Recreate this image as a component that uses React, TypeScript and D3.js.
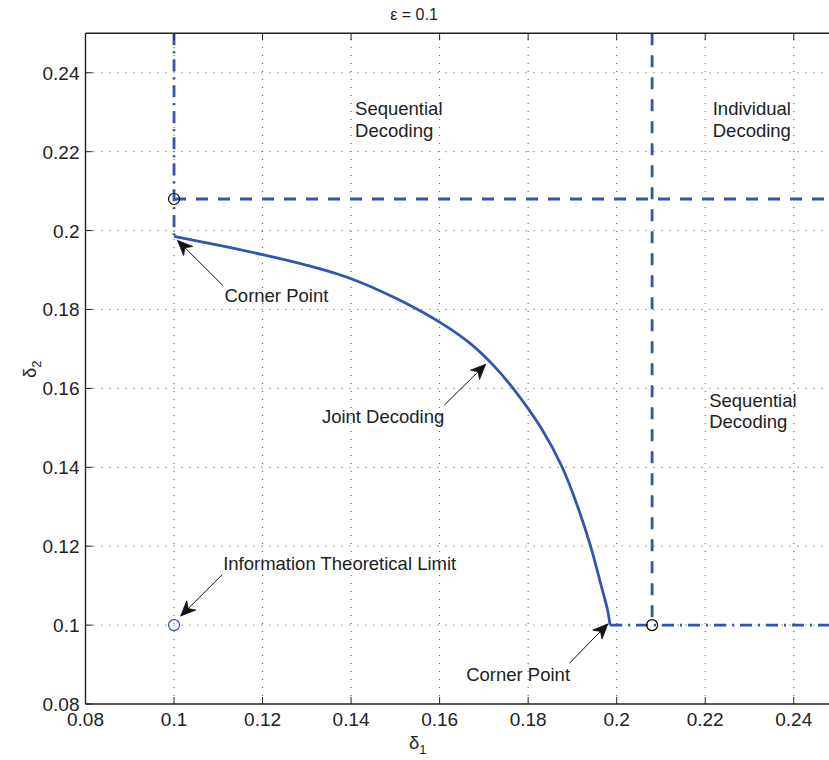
import React from "react";
import * as d3 from "d3";

// Joint decoding boundary (delta1, delta2)
const curveX = [0.1, 0.11, 0.12, 0.13, 0.14, 0.15, 0.16, 0.1669, 0.1721, 0.1766, 0.1829, 0.1877, 0.1912, 0.1941, 0.1965, 0.1979, 0.1985];
const curveY = [0.1985, 0.1963, 0.1939, 0.1912, 0.1878, 0.1829, 0.1768, 0.1714, 0.1659, 0.16, 0.15, 0.14, 0.13, 0.12, 0.11, 0.104, 0.1];

// Region boundaries: [x1, y1, x2, y2, style]
const boundaries: [number, number, number, number, string][] = [
  [0.1, 0.25, 0.1, 0.1985, "dashdot"],
  [0.1985, 0.1, 0.25, 0.1, "dashdot"],
  [0.1, 0.208, 0.25, 0.208, "dash"],
  [0.208, 0.25, 0.208, 0.1, "dash"],
];

// Marker points: [x, y, colour]
const markers: [number, number, string][] = [
  [0.1, 0.208, "#000"],
  [0.208, 0.1, "#000"],
  [0.1, 0.1, "#3355b0"],
];

const xTicks = [0.08, 0.1, 0.12, 0.14, 0.16, 0.18, 0.2, 0.22, 0.24];
const yTicks = [0.08, 0.1, 0.12, 0.14, 0.16, 0.18, 0.2, 0.22, 0.24];
const xTickLabels = ["0.08", "0.1", "0.12", "0.14", "0.16", "0.18", "0.2", "0.22", "0.24"];
const yTickLabels = ["0.08", "0.1", "0.12", "0.14", "0.16", "0.18", "0.2", "0.22", "0.24"];

// Region labels: [x data, y data, lines]
const regionLabels: [number, number, string[]][] = [
  [0.1409, 0.2293, ["Sequential", "Decoding"]],
  [0.2217, 0.2293, ["Individual", "Decoding"]],
  [0.2209, 0.1554, ["Sequential", "Decoding"]],
];

// Annotations: text, text position (data), arrow tail (data), arrow tip (data)
const annotations: { text: string; tx: number; ty: number; from: [number, number]; to: [number, number] }[] = [
  { text: "Corner Point", tx: 0.1114, ty: 0.182, from: [0.1111, 0.1860], to: [0.1008, 0.1975] },
  { text: "Joint Decoding", tx: 0.1334, ty: 0.1513, from: [0.1611, 0.1558], to: [0.1704, 0.1661] },
  { text: "Information Theoretical Limit", tx: 0.1111, ty: 0.1140, from: [0.1109, 0.1128], to: [0.1015, 0.1023] },
  { text: "Corner Point", tx: 0.1660, ty: 0.0858, from: [0.1893, 0.0903], to: [0.1980, 0.1003] },
];

const W = 829;
const H = 760;
const left = 85.5;
const top = 33.3;
const bottom = 704;
const blue = "#3355b0";
const font = "'Liberation Sans', Arial, Helvetica, sans-serif";

export default function App() {
  const x = d3.scaleLinear().domain([0.08, 0.25]).range([left, left + 0.17 * 4426.5]);
  const y = d3.scaleLinear().domain([0.08, 0.25]).range([bottom, top]);
  const right = x(0.25);

  const pts = curveX.map((v, i) => [v, curveY[i]] as [number, number]);
  const line = d3
    .line<[number, number]>()
    .x((d) => x(d[0]))
    .y((d) => y(d[1]))
    .curve(d3.curveCatmullRom.alpha(0.5));

  const arrowHead = (fx: number, fy: number, tx: number, ty: number) => {
    const dx = tx - fx;
    const dy = ty - fy;
    const len = Math.hypot(dx, dy);
    const ux = dx / len;
    const uy = dy / len;
    const px = -uy;
    const py = ux;
    const L = 15;
    const hw = 6.5;
    const bx = tx - ux * L;
    const by = ty - uy * L;
    const nx = tx - ux * L * 0.7;
    const ny = ty - uy * L * 0.7;
    return `M${tx},${ty} L${bx + px * hw},${by + py * hw} L${nx},${ny} L${bx - px * hw},${by - py * hw} Z`;
  };

  return (
    <svg
      width={W}
      height={H}
      style={{ position: "absolute", left: 0, top: 0, background: "#fff" }}
      fontFamily={font}
    >
      <rect x={0} y={0} width={W} height={H} fill="#fff" />
      {/* grid */}
      <g stroke="#555" strokeWidth={1} strokeDasharray="1 7">
        {xTicks.slice(1).map((t) => (
          <line key={"gx" + t} x1={x(t)} x2={x(t)} y1={bottom} y2={top} />
        ))}
        {yTicks.slice(1).map((t) => (
          <line key={"gy" + t} x1={left} x2={right} y1={y(t)} y2={y(t)} />
        ))}
      </g>

      {/* region boundaries */}
      <g stroke={blue} strokeWidth={2.8} fill="none">
        {boundaries.map(([x1, y1, x2, y2, s], i) => (
          <line
            key={"b" + i}
            x1={x(x1)}
            y1={y(y1)}
            x2={x(x2)}
            y2={y(y2)}
            strokeDasharray={s === "dash" ? "12 10" : "12 6 2 6"}
          />
        ))}
      </g>

      {/* joint decoding curve */}
      <path d={line(pts) || ""} fill="none" stroke={blue} strokeWidth={2.8} />

      {/* markers */}
      {markers.map(([mx, my, c], i) => (
        <circle key={"m" + i} cx={x(mx)} cy={y(my)} r={5.5} fill="none" stroke={c} strokeWidth={1.2} />
      ))}

      {/* axes frame */}
      <g stroke="#222" strokeWidth={1.4} fill="none">
        <line x1={left} x2={right} y1={top} y2={top} />
        <line x1={left} x2={right} y1={bottom} y2={bottom} />
        <line x1={left} x2={left} y1={top} y2={bottom} />
      </g>
      {/* ticks */}
      <g stroke="#222" strokeWidth={1}>
        {xTicks.map((t) => (
          <g key={"tx" + t}>
            <line x1={x(t)} x2={x(t)} y1={bottom} y2={bottom - 7} />
            <line x1={x(t)} x2={x(t)} y1={top} y2={top + 7} />
          </g>
        ))}
        {yTicks.map((t) => (
          <line key={"ty" + t} x1={left} x2={left + 7} y1={y(t)} y2={y(t)} />
        ))}
      </g>
      {/* tick labels */}
      <g fontSize={19} fill="#222">
        {xTicks.map((t, i) => (
          <text key={"lx" + t} x={x(t)} y={bottom + 22} textAnchor="middle">
            {xTickLabels[i]}
          </text>
        ))}
        {yTicks.map((t, i) => (
          <text key={"ly" + t} x={left - 6} y={y(t) + 7} textAnchor="end">
            {yTickLabels[i]}
          </text>
        ))}
      </g>

      {/* title and axis labels */}
      <text x={414} y={19.5} fontSize={16} textAnchor="middle" fill="#222">
        ε = 0.1
      </text>
      <text x={409} y={749} fontSize={18.5} fill="#222">
        δ<tspan fontSize={13} dy={5}>1</tspan>
      </text>
      <text transform="translate(36,378) rotate(-90)" fontSize={18.5} fill="#222">
        δ<tspan fontSize={13} dy={5}>2</tspan>
      </text>

      {/* region labels */}
      <g fontSize={18.5} fill="#222">
        {regionLabels.map(([lx, ly, lines], i) => (
          <text key={"r" + i} x={x(lx)} y={y(ly)}>
            {lines.map((s, j) => (
              <tspan key={j} x={x(lx)} dy={j === 0 ? 0 : 21.6}>
                {s}
              </tspan>
            ))}
          </text>
        ))}
      </g>

      {/* annotations */}
      {annotations.map((a, i) => {
        const fx = x(a.from[0]);
        const fy = y(a.from[1]);
        const tx = x(a.to[0]);
        const ty = y(a.to[1]);
        return (
          <g key={"a" + i}>
            <line x1={fx} y1={fy} x2={tx} y2={ty} stroke="#111" strokeWidth={1} />
            <path d={arrowHead(fx, fy, tx, ty)} fill="#111" stroke="#111" strokeWidth={0.8} />
            <text x={x(a.tx)} y={y(a.ty)} fontSize={18.5} fill="#222">
              {a.text}
            </text>
          </g>
        );
      })}
    </svg>
  );
}
